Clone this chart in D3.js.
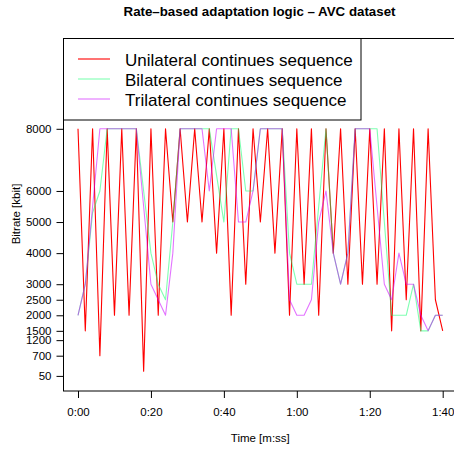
<!DOCTYPE html>
<html><head><meta charset="utf-8">
<script src="https://cdn.jsdelivr.net/npm/d3@7"></script>
<style>
html,body{margin:0;padding:0;background:#fff;}
svg{display:block;font-family:"Liberation Sans",Arial,Helvetica,sans-serif;}
</style></head>
<body>
<script>
// ---- data ----
const times = d3.range(0, 101, 2); // seconds
const unilateral = [8000,1500,8000,700,8000,2000,8000,2000,8000,200,
  8000,2000,8000,5000,8000,5000,8000,5000,8000,4000,
  8000,2000,8000,3000,8000,5000,8000,4000,8000,2000,
  8000,3000,8000,2000,8000,4000,8000,3000,8000,3000,
  8000,3000,8000,1500,8000,2500,8000,1500,8000,2500,1500];
const bilateral = [2000,3000,5300,6000,8000,8000,8000,8000,8000,6000,
  4000,3000,2500,5000,8000,8000,8000,8000,8000,6500,
  5000,8000,8000,6000,6000,8000,8000,8000,8000,4000,
  3000,3000,3000,5500,8000,4000,3000,4000,8000,8000,
  8000,8000,5000,2000,2000,2000,3000,1500,1500,2000,2000];
const trilateral = [2000,3000,5500,8000,8000,8000,8000,8000,8000,5500,
  3000,2500,2000,4000,8000,8000,8000,8000,6000,8000,
  8000,8000,5000,5000,6000,8000,8000,8000,8000,2500,
  2000,2000,2500,5000,6000,4000,3000,4000,8000,8000,
  8000,5500,3000,2500,4000,3000,3000,2000,1500,2000,2000];
const seriesNames = ["Unilateral continues sequence","Bilateral continues sequence","Trilateral continues sequence"];
const seriesColors = ["#FF0000","#00FF66","#CC00FF"];
const seriesOpacity = [1, 0.5, 0.55];
const xTicks = [0,20,40,60,80,100];
const yTicks = [50,700,1200,1500,2000,2500,3000,4000,5000,6000,8000];
const titleText = "Rate–based adaptation logic – AVC dataset";
const xLabel = "Time [m:ss]";
const yLabel = "Bitrate [kbit]";

// ---- layout ----
const W = 454, H = 451;
const svg = d3.select("body").append("svg").attr("width", W).attr("height", H);
const x = d3.scaleLinear().domain([0,100]).range([78,442.7]);
const y = d3.scaleLinear().domain([50,8000]).range([375.9,128.8]);
const frame = {l:63.5, t:38.5, r:456, b:391};

// lines
const allSeries = [unilateral, bilateral, trilateral];
const line = d3.line().x((d,i)=>x(times[i])).y(d=>y(d));
allSeries.forEach((s,k)=>{
  svg.append("path").datum(s)
    .attr("d", line)
    .attr("fill","none")
    .attr("stroke", seriesColors[k])
    .attr("stroke-opacity", seriesOpacity[k])
    .attr("stroke-width", 1.1)
    .attr("stroke-linejoin","round");
});

// frame
svg.append("rect").attr("x",frame.l).attr("y",frame.t)
  .attr("width",frame.r-frame.l).attr("height",frame.b-frame.t)
  .attr("fill","none").attr("stroke","#000").attr("stroke-width",1);

// axes
const fmt = s => Math.floor(s/60) + ":" + String(s%60).padStart(2,"0");
const xAxis = svg.append("g").attr("transform",`translate(0,${frame.b})`)
  .call(d3.axisBottom(x).tickValues(xTicks).tickFormat(fmt).tickSize(7).tickPadding(10));
const yAxis = svg.append("g").attr("transform",`translate(${frame.l},0)`)
  .call(d3.axisLeft(y).tickValues(yTicks).tickFormat(d=>String(d)).tickSize(7).tickPadding(5));
[xAxis,yAxis].forEach(g=>{
  g.select(".domain").remove();
  g.selectAll("text").attr("font-size","11.5px").attr("fill","#000")
   .attr("font-family","'Liberation Sans',Arial,Helvetica,sans-serif");
  g.selectAll("line").attr("stroke","#000");
});

// titles
svg.append("text").attr("x",259.5).attr("y",15.5).attr("text-anchor","middle")
  .attr("font-size","13.3px").attr("font-weight","bold").text(titleText);
svg.append("text").attr("x",260.3).attr("y",441.5).attr("text-anchor","middle")
  .attr("font-size","11.5px").text(xLabel);
svg.append("text").attr("transform","translate(20,214) rotate(-90)").attr("text-anchor","middle")
  .attr("font-size","11.5px").text(yLabel);

// legend
const lg = svg.append("g");
lg.append("rect").attr("x",63.5).attr("y",38.5).attr("width",297.5).attr("height",81.5)
  .attr("fill","#fff").attr("stroke","#000").attr("stroke-width",1);
seriesNames.forEach((n,k)=>{
  const by = 65.5 + k*20;
  lg.append("line").attr("x1",78).attr("x2",110).attr("y1",by-6.5).attr("y2",by-6.5)
    .attr("stroke",seriesColors[k]).attr("stroke-opacity",seriesOpacity[k]).attr("stroke-width",1.1);
  lg.append("text").attr("x",125).attr("y",by).attr("font-size","17px").attr("fill","#000").text(n);
});
</script>
</body></html>
